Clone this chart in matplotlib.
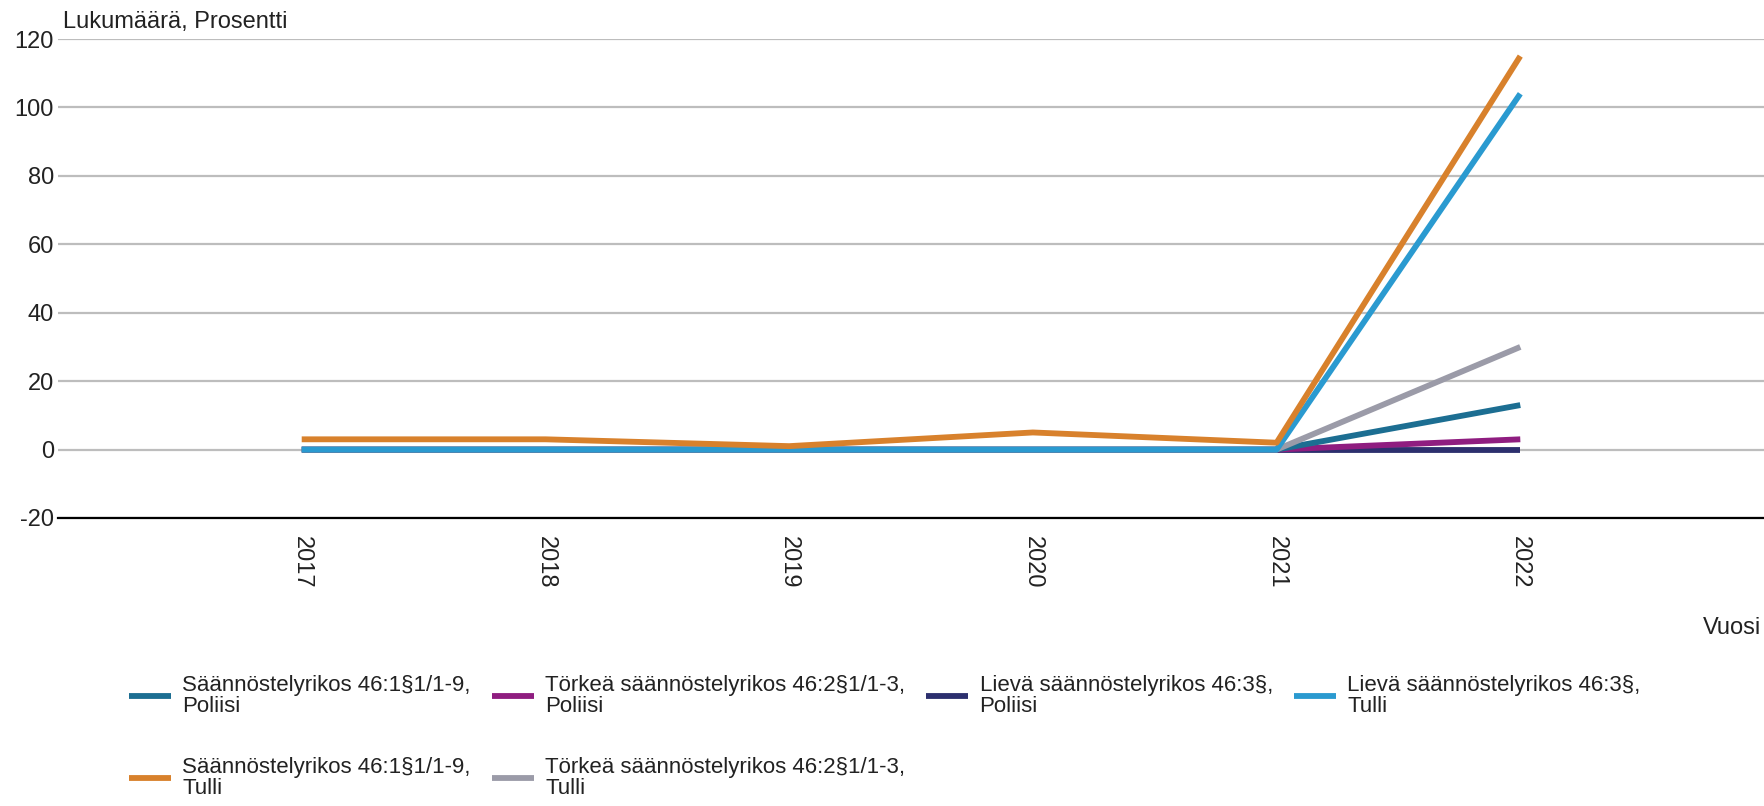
import matplotlib.pyplot as plt

plt.rcParams['font.family'] = ['Liberation Sans', 'DejaVu Sans']
plt.rcParams['axes.unicode_minus'] = False

years = [2017, 2018, 2019, 2020, 2021, 2022]

s_poliisi = [0, 0, 0, 0, 0, 13]
t_poliisi = [0, 0, 0, 0, 0, 3]
l_poliisi = [0, 0, 0, 0, 0, 0]
l_tulli = [0, 0, 0, 0, 0, 104]
s_tulli = [3, 3, 1, 5, 2, 115]
t_tulli = [0, 0, 0, 0, 0, 30]

labels = {
    's_poliisi': 'Säännöstelyrikos 46:1§1/1-9,\nPoliisi',
    's_tulli': 'Säännöstelyrikos 46:1§1/1-9,\nTulli',
    't_poliisi': 'Törkeä säännöstelyrikos 46:2§1/1-3,\nPoliisi',
    't_tulli': 'Törkeä säännöstelyrikos 46:2§1/1-3,\nTulli',
    'l_poliisi': 'Lievä säännöstelyrikos 46:3§,\nPoliisi',
    'l_tulli': 'Lievä säännöstelyrikos 46:3§,\nTulli',
}

W, H = 1764, 806
fig = plt.figure(figsize=(W / 100, H / 100), dpi=100)
ax = fig.add_axes([58 / W, 1 - 518 / H, 1 - 58 / W, (518 - 39) / H])

lw = 4.2
h = {}
h['l_poliisi'], = ax.plot(years, l_poliisi, color='#2c2f6e', lw=lw, solid_capstyle='butt')
h['t_poliisi'], = ax.plot(years, t_poliisi, color='#8f1d80', lw=lw, solid_capstyle='butt')
h['s_poliisi'], = ax.plot(years, s_poliisi, color='#1c6e92', lw=lw, solid_capstyle='butt')
h['t_tulli'], = ax.plot(years, t_tulli, color='#9b9ba8', lw=lw, solid_capstyle='butt')
h['l_tulli'], = ax.plot(years, l_tulli, color='#2a9ad0', lw=lw, solid_capstyle='butt')
h['s_tulli'], = ax.plot(years, s_tulli, color='#d8812c', lw=lw, solid_capstyle='butt')

ax.set_ylim(-20, 120)
ax.set_xlim(2016, 2023)
ax.set_yticks(range(-20, 121, 20))
ax.set_xticks(years)
ax.set_xticklabels([str(y) for y in years], rotation=-90, fontsize=17, color='#222222')
ax.tick_params(axis='y', length=0, pad=3, labelsize=17, labelcolor='#222222')
ax.tick_params(axis='x', length=0, pad=13)
ax.grid(axis='y', color='#bdbdbd', lw=1.6)
ax.set_axisbelow(True)
for side in ['top', 'right', 'left']:
    ax.spines[side].set_visible(False)
ax.spines['bottom'].set_color('black')
ax.spines['bottom'].set_linewidth(1.6)

fig.text(63 / W, 1 - 22 / H, 'Lukumäärä, Prosentti', fontsize=17, color='#222222', va='center')
fig.text(1761 / W, 1 - 628 / H, 'Vuosi', fontsize=17, color='#222222', va='center', ha='right')

order = ['s_poliisi', 's_tulli', 't_poliisi', 't_tulli', 'l_poliisi', 'l_tulli']
leg = fig.legend([h[k] for k in order], [labels[k] for k in order], ncol=4,
                 loc='upper left', bbox_to_anchor=(129 / W, 1 - 675 / H),
                 frameon=False, fontsize=16, handlelength=1.9, handletextpad=0.5,
                 columnspacing=0.95, labelspacing=1.8, borderpad=0, borderaxespad=0)
for t in leg.get_texts():
    t.set_linespacing(1.0)
    t.set_color('#222222')

fig.savefig('out.png', dpi=100)
